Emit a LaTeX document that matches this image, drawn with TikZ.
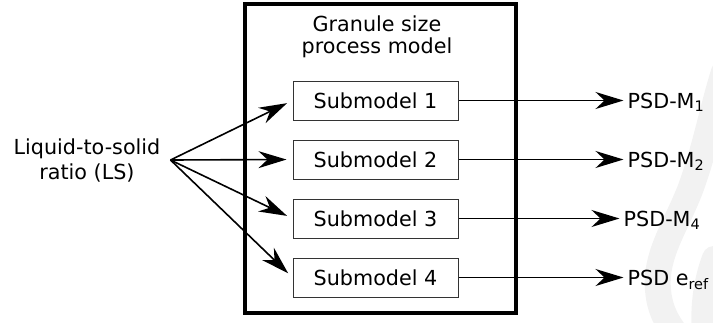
\documentclass[tikz,border=0pt]{standalone}
\usepackage{fontspec}
\setmainfont{DejaVu Sans}
\usetikzlibrary{arrows.meta,positioning}

\begin{document}
\begin{tikzpicture}[x=1pt,y=-1pt,node distance=19pt,>={Stealth[length=28pt,width=17pt,inset=9pt]},
	every node/.style={font=\fontsize{20.7}{25}\selectfont},
	submodel/.style={draw=black!80,line width=1pt,minimum width=165pt,minimum height=39pt,inner sep=0pt},
	outer/.style={draw,line width=3.5pt,minimum width=271pt,minimum height=309pt,inner sep=0pt},
	psd/.style={inner sep=0pt,text depth=0pt},
	wire/.style={line width=1.6pt}]
	
	\useasboundingbox (0,0) rectangle (713,322);
	
	% faint mark in the background
	\begin{scope}
		\clip (0,0) rectangle (713,322);
		\draw[gray!10,line width=26pt,line cap=round] (724,72) .. controls (712,110) and (705,150) .. (690,190) .. controls (675,228) and (655,255) .. (658,290) .. controls (660,315) and (672,330) .. (685,345);
		\draw[gray!10,line width=24pt,line cap=round] (714,258) .. controls (704,285) and (702,310) .. (704,340);
	\end{scope}
	
	\node[outer] (GS) at (380.5,158.5) {};
	\node[align=center,inner sep=0pt] (T) at (377,37) {Granule size\\[-3pt]process model};
	
	\node[submodel] (M1) at (375.5,100.5) {Submodel 1};
	\node[submodel] (M2) [below=of M1] {Submodel 2};
	\node[submodel] (M3) [below=of M2] {Submodel 3};
	\node[submodel] (M4) [below=of M3] {Submodel 4};
	
	\node[align=center,inner sep=0pt] (LS) at (87,160) {Liquid-to-solid\\ratio (LS)};
	\coordinate (src) at ([xshift=10pt]LS.east);
	
	\node[psd] (P1) [right=169pt of M1] {PSD-M\textsubscript{1}};
	\node[psd] (P2) [right=169pt of M2] {PSD-M\textsubscript{2}};
	\node[psd] (P3) [right=165pt of M3] {PSD-M\textsubscript{4}};
	\node[psd] (P4) [right=169pt of M4] {PSD e\textsubscript{ref}};
	
	\path[->,wire,shorten >=6pt] (src) edge (M1.west) edge (M2.west) edge (M3.west) edge (M4.west);
	\path[->,wire,shorten >=4pt] (M1.east) edge (P1.west);
	\path[->,wire,shorten >=4pt] (M2.east) edge (P2.west);
	\path[->,wire,shorten >=4pt] (M3.east) edge (P3.west);
	\path[->,wire,shorten >=4pt] (M4.east) edge (P4.west);
\end{tikzpicture}
\end{document}
